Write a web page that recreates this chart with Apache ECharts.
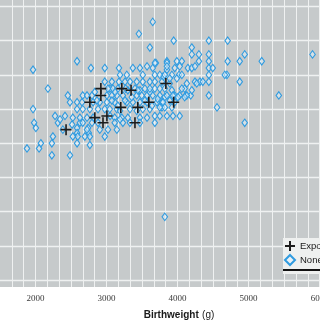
<!DOCTYPE html>
<html>
<head>
<meta charset="utf-8">
<script src="https://cdn.jsdelivr.net/npm/echarts@6/dist/echarts.min.js"></script>
<style>html,body{margin:0;padding:0;background:#fff}#c{width:320px;height:320px}</style>
</head>
<body>
<div id="c"></div>
<script>
const seriesNames = ['Exposed', 'Nonexposed'];
const xTickLabels = [2000, 3000, 4000, 5000, 6000];
const exposed = [
  [2430,440],[2765,520],[2920,560],[2920,540],[3215,560],[3345,555],[3200,505],
  [2835,475],[3005,480],[2950,460],[3440,505],[3400,460],[3595,520],[3835,575],[3945,520]
];
const nonexposed = [
  [3650,755],[3455,720],[3610,680],[2585,640],[1965,615],[2780,620],[2975,620],[3175,620],
  [3370,620],[3470,620],[3650,620],[3695,635],[2175,560],[1965,500],[1980,460],[2005,445],
  [1880,385],[2075,400],[2050,385],[2230,400],[2230,365],[2485,365],[2275,480],[2415,480],
  [2315,460],[2515,455],[2625,460],[2585,445],[2585,430],[2595,420],[2740,445],[2750,430],
  [2345,470],[2385,440],[2245,420],[2585,400],[2765,395],[2525,420],[2695,420],[2765,420],
  [2975,420],[2455,540],[2485,520],
  [3945,700],[4440,700],[4705,700],[4200,680],[4200,660],[4300,660],[4300,640],[4440,660],
  [4440,640],[4945,660],[4875,640],[4705,640],[5185,640],[5900,660],[3850,640],[3990,640],
  [4060,640],[4145,620],[4200,620],[4440,620],[4495,620],[4440,600],[4695,600],[4875,580],
  [4245,580],[4315,580],[4355,580],[4440,580],[4020,600],[3960,620],[4100,560],[4060,560],
  [4185,540],[4115,540],[4440,540],[5425,540],[4555,505],[4945,460],[3960,540],[3960,520],
  [3850,615],[3795,595],[3890,575],[3920,555],[3820,535],[3780,520],[3780,505],[3820,185],
  [4665,600],[3680,635],[3850,635],[3850,625],[4030,625],[4245,625],
  [3680,600],[3610,580],[3510,580],[3425,580],[3330,580],[3260,580],[3175,580],[3750,600],
  [3820,600],[3920,600],[3990,590],[4060,600],[4130,575],[4200,555],[4270,575],
  [2795,540],[2665,540],[2725,540],[3005,540],[3075,540],[3145,540],[3230,540],[3425,540],
  [3495,540],[3570,540],[3650,540],[3750,540],[3850,540],[3935,540],[4030,540],[4130,540],
  [2585,520],[2655,520],[2810,520],[2905,520],[3005,520],[3115,520],[3285,520],[3370,520],
  [3710,520],[3795,520],[3920,505],[4005,535],[4100,535],
  [2585,500],[2665,500],[2765,500],[2880,500],[2975,500],[3045,500],[3145,500],[3330,500],
  [3510,500],[3610,500],[3680,480],[3750,480],[3850,480],[3935,480],[4030,480],
  [2525,475],[2625,475],[2725,475],[2810,475],[3115,475],[3215,475],[3300,475],[3470,475],
  [3570,475],[2665,460],[2795,460],[2880,460],[3115,460],[3230,460],[3330,460],[3470,460],
  [3680,460],[2725,440],[2905,440],[3020,440],[3145,440],
  [3400,560],[3540,560],[3680,560],[3820,560],[3470,555],[3610,550],[3750,560],[3300,555],
  [3160,560],[3045,560],[3190,600],[3285,600],[3510,600],[3570,625],[2975,580],[3075,580],
  [3090,560],[3470,520],[3570,520],[3190,495],[3425,495],
  [3075,525],[3160,510],[3260,525],[3355,535],[3540,525],[3640,510],[3720,530],[3820,505],
  [3890,525],[3680,580],[3780,580],[3890,590],[3440,555],[3270,560],[3120,550],[3020,560],
  [2865,525],[2835,550],[3190,470],[3050,480],[3610,560],[3750,505]
];

const chart = echarts.init(document.getElementById('c'), null, {renderer: 'canvas'});
chart.setOption({
  animation: false,
  backgroundColor: '#ffffff',
  grid: {
    left: 0, top: 0, right: 0, bottom: 33,
    outerBoundsMode: 'none', containLabel: false,
    show: true, backgroundColor: '#c6cacb', borderWidth: 0
  },
  xAxis: {
    type: 'value', min: 1500, max: 6005, interval: 500,
    axisLine: {show: false}, axisTick: {show: false},
    axisLabel: {
      margin: 7, fontFamily: 'Liberation Sans Narrow', fontSize: 9, color: '#3a3a3a',
      formatter: v => (xTickLabels.indexOf(v) >= 0 ? String(v) : '')
    },
    splitLine: {show: true, showMinLine: false, showMaxLine: false, lineStyle: {color: '#eff1f1', width: 1}},
    minorTick: {show: false, splitNumber: 3},
    minorSplitLine: {show: true, lineStyle: {color: '#eff1f1', width: 1}},
    name: '{b|Birthweight} {n|(g)}', nameLocation: 'middle', nameGap: 22,
    nameTextStyle: {
      padding: [0, 0, 0, 38],
      rich: {
        b: {fontFamily: 'Liberation Sans', fontWeight: 'bold', fontSize: 10, color: '#1a1a1a'},
        n: {fontFamily: 'Liberation Sans', fontSize: 10, color: '#1a1a1a'}
      }
    }
  },
  yAxis: {
    type: 'value', min: -20, max: 819, splitNumber: 8,
    axisLine: {show: false}, axisTick: {show: false}, axisLabel: {show: false},
    splitLine: {show: true, showMinLine: false, showMaxLine: false, lineStyle: {color: '#eff1f1', width: 1.3}}
  },
  legend: {
    orient: 'vertical', left: 283, top: 238,
    itemWidth: 10, itemHeight: 10, itemGap: 2,
    padding: [2, 4, 8, 1],
    backgroundColor: '#eef0ef',
    textStyle: {fontFamily: 'Liberation Sans', fontSize: 9.5, color: '#1a1a1a'},
    data: seriesNames
  },
  graphic: [{
    type: 'line', shape: {x1: 283, y1: 270, x2: 320, y2: 270},
    style: {stroke: '#111', lineWidth: 2}, z: 100
  }],
  series: [
    {
      name: seriesNames[1], type: 'scatter', data: nonexposed,
      symbol: 'diamond', symbolSize: [5.5, 7.5],
      itemStyle: {color: 'rgba(232,242,250,0.55)', borderColor: '#2f9be0', borderWidth: 1.1, opacity: 1},
      z: 2
    },
    {
      name: seriesNames[0], type: 'scatter', data: exposed,
      symbol: 'path://M5,0L5,10M0,5L10,5', symbolSize: 11,
      itemStyle: {color: 'rgba(0,0,0,0)', borderColor: '#1c1c1c', borderWidth: 1.6, opacity: 1},
      z: 3
    }
  ]
});
</script>
</body>
</html>
